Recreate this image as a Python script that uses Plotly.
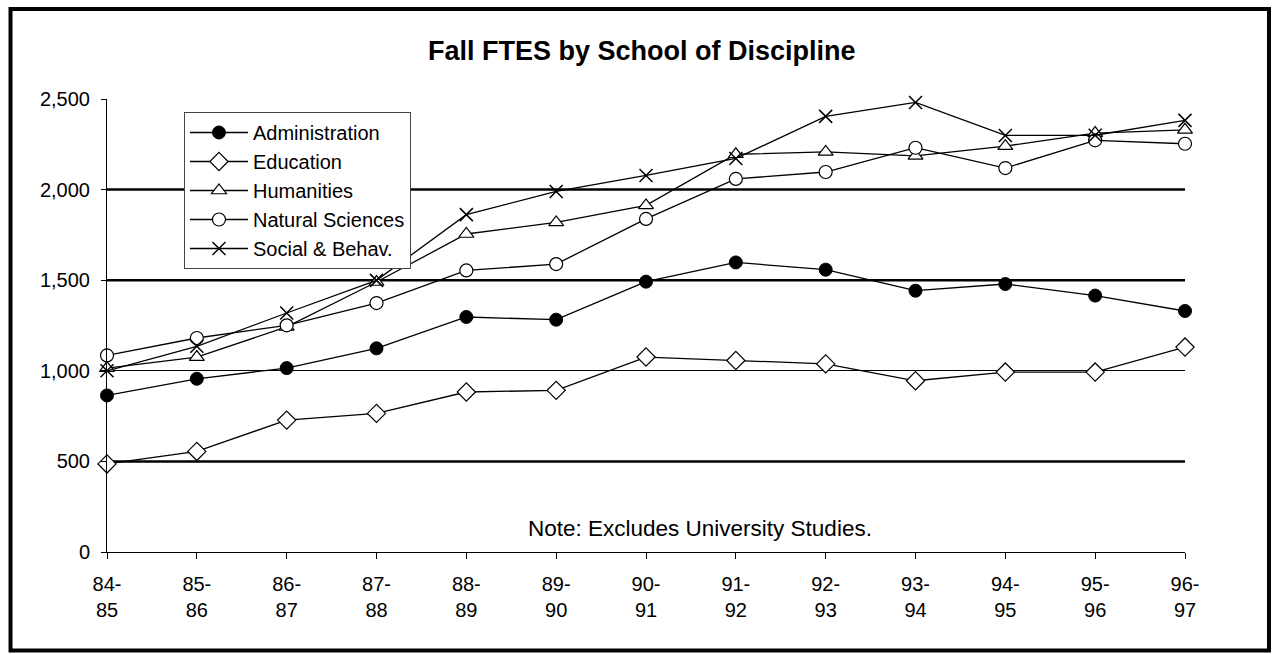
import plotly.graph_objects as go

categories = ["84-<br>85", "85-<br>86", "86-<br>87", "87-<br>88", "88-<br>89", "89-<br>90",
              "90-<br>91", "91-<br>92", "92-<br>93", "93-<br>94", "94-<br>95", "95-<br>96", "96-<br>97"]

administration = [864, 956, 1015, 1124, 1297, 1282, 1492, 1598, 1558, 1442, 1479, 1415, 1330]
education = [486, 555, 728, 765, 883, 892, 1076, 1057, 1038, 945, 993, 993, 1131]
humanities = [1015, 1076, 1242, 1490, 1755, 1819, 1913, 2195, 2208, 2186, 2240, 2312, 2330]
natural_sciences = [1085, 1181, 1251, 1374, 1554, 1589, 1838, 2059, 2097, 2231, 2119, 2272, 2253]
social_behav = [1000, 1135, 1319, 1499, 1862, 1990, 2078, 2172, 2404, 2481, 2299, 2300, 2382]

y_ticks = [0, 500, 1000, 1500, 2000, 2500]
bold_grid = [500, 1500, 2000]

x = list(range(len(categories)))

series = [
    ("Administration", administration, dict(symbol="circle", size=13, color="black",
                                            line=dict(color="black", width=1))),
    ("Education", education, dict(symbol="diamond", size=14, color="white",
                                  line=dict(color="black", width=1.2))),
    ("Humanities", humanities, dict(symbol="triangle-up", size=13, color="white",
                                    line=dict(color="black", width=1.2))),
    ("Natural Sciences", natural_sciences, dict(symbol="circle", size=13, color="white",
                                                line=dict(color="black", width=1.2))),
    ("Social & Behav.", social_behav, dict(symbol="x-thin-open", size=13, color="black",
                                           line=dict(color="black", width=1.5))),
]

fig = go.Figure()
for i, (name, vals, mk) in enumerate(series):
    fig.add_trace(go.Scatter(
        x=x, y=vals, name=name, mode="lines+markers",
        line=dict(color="black", width=1.3),
        marker=mk, cliponaxis=False,
    ))

font_family = "Arial, Liberation Sans, sans-serif"

shapes = []
for v in bold_grid:
    shapes.append(dict(type="line", xref="paper", yref="y", x0=0, x1=1, y0=v, y1=v,
                       line=dict(color="black", width=2.5), layer="below"))
# outer frame
shapes.append(dict(type="rect", xref="paper", yref="paper",
                   x0=-0.0895, x1=1.0779, y0=-0.2174, y1=1.1987,
                   line=dict(color="black", width=4)))

fig.update_layout(
    width=1273, height=654,
    margin=dict(l=107, r=88, t=99, b=102),
    paper_bgcolor="white", plot_bgcolor="white",
    font=dict(family=font_family, size=20, color="black"),
    title=dict(text="<b>Fall FTES by School of Discipline</b>",
               font=dict(family=font_family, size=27, color="black"),
               x=0.496, xref="paper", xanchor="center",
               y=1 - 51 / 654, yref="container", yanchor="middle"),
    showlegend=True,
    legend=dict(x=0.0714, y=0.9713, xanchor="left", yanchor="top",
                bgcolor="white", bordercolor="#444", borderwidth=1,
                font=dict(family=font_family, size=20, color="black"),
                traceorder="normal", itemwidth=58),
    shapes=shapes,
    annotations=[dict(text="Note: Excludes University Studies.", xref="paper", yref="paper",
                      x=0.550, y=0.0508, xanchor="center", yanchor="middle",
                      showarrow=False, font=dict(family=font_family, size=22.5, color="black"))],
)

fig.update_xaxes(
    range=[0, len(categories) - 1], tickvals=x, ticktext=categories,
    showline=True, linecolor="black", linewidth=1, showgrid=False, zeroline=False,
    ticks="outside", ticklen=6, tickcolor="black", tickfont=dict(size=20),
    ticklabelstandoff=8,
)
fig.update_yaxes(
    range=[0, 2500], tickvals=y_ticks, tickformat=",",
    showline=True, linecolor="black", linewidth=1,
    showgrid=True, gridcolor="black", gridwidth=1, zeroline=False,
    ticks="outside", ticklen=5, tickcolor="black", tickfont=dict(size=20),
    ticklabelstandoff=7,
)

fig.write_html("out.html", config={"displayModeBar": False},
               post_script="document.body.style.margin='0';")
